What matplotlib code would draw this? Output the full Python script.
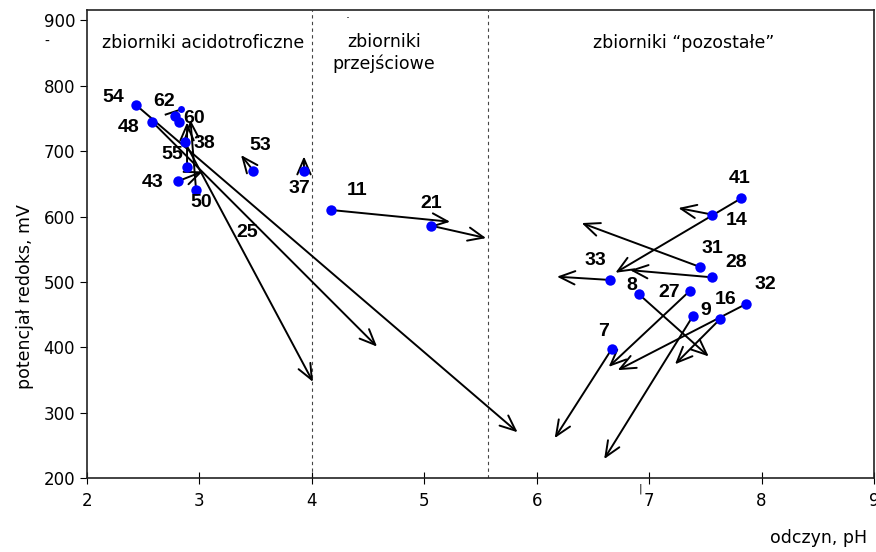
import matplotlib.pyplot as plt
from matplotlib.patches import FancyArrowPatch

# reservoirs: label, pH, redox potential [mV] (first survey)
labels = ["54", "48", "62", "60", "38", "55", "43", "50", "53", "37", "11", "21",
          "41", "14", "31", "28", "33", "8", "27", "9", "16", "32", "7"]
ph = [2.44, 2.58, 2.78, 2.82, 2.87, 2.89, 2.81, 2.97, 3.48, 3.93, 4.17, 5.06,
      7.82, 7.56, 7.45, 7.56, 6.65, 6.91, 7.36, 7.39, 7.63, 7.86, 6.67]
eh = [770, 745, 753, 744, 714, 675, 654, 641, 670, 670, 610, 586,
      628, 603, 523, 507, 503, 481, 486, 448, 443, 466, 398]

# label offsets in points
lab_dx = [-17, -17, -8, 11, 14, -11, -18, 4, 5, -3, 19, 0,
          -1, 18, 9, 17, -10, -5, -15, 9, 4, 14, -6]
lab_dy = [6, -4, 11, 3, -1, 9, -1, -9, 18, -13, 14, 16,
          14, -4, 13, 11, 14, 6, -1, 4, 14, 14, 12]

# a small extra point (partly hidden) next to 62
ph_small = [2.84]
eh_small = [764]

# changes (second survey): start -> end
arr_x0 = [2.44, 2.58, 2.87, 2.97, 2.89, 2.81, 3.48, 3.93, 4.17, 5.06,
          7.82, 7.56, 7.45, 7.56, 6.65, 6.91, 7.36, 7.39, 7.63, 7.86, 6.67]
arr_y0 = [770, 745, 714, 641, 675, 654, 670, 670, 610, 586,
          628, 603, 523, 507, 503, 481, 486, 448, 443, 466, 398]
arr_x1 = [5.83, 4.58, 4.01, 2.92, 2.89, 3.03, 3.37, 3.93, 5.23, 5.55,
          6.70, 7.26, 6.40, 6.83, 6.18, 7.53, 6.64, 6.60, 7.23, 6.72, 6.16]
arr_y1 = [270, 401, 347, 748, 744, 669, 694, 692, 592, 567,
          514, 613, 590, 518, 508, 386, 370, 229, 374, 365, 261]

# short segment near 62
seg_x = [2.84, 2.70]
seg_y = [764, 756]

zone_lines = [4.0, 5.57]

fig = plt.figure(figsize=(8.76, 5.52), dpi=100)
ax = fig.add_axes([0.0993, 0.134, 0.8984, 0.848])

for x0, y0, x1, y1 in zip(arr_x0, arr_y0, arr_x1, arr_y1):
    ar = FancyArrowPatch((x0, y0), (x1, y1),
                         arrowstyle="->,head_length=0.7,head_width=0.3",
                         mutation_scale=16, color="black", lw=1.4,
                         shrinkA=0, shrinkB=0, zorder=2)
    ax.add_patch(ar)
ax.plot(seg_x, seg_y, color="black", lw=1.4, zorder=2)

ax.plot(ph, eh, "o", color="#0000ff", ms=7.5, mec="none", zorder=3)
ax.plot(ph_small, eh_small, "o", color="#0000ff", ms=5, mec="none", zorder=3)

for lab, x, y, dx, dy in zip(labels, ph, eh, lab_dx, lab_dy):
    ax.annotate(lab, (x, y), xytext=(dx, dy), textcoords="offset points",
                ha="center", va="center", fontsize=14, fontweight="bold",
                family="Liberation Sans", zorder=4)
ax.annotate("25", (2.87, 714), xytext=(45, -65), textcoords="offset points",
            ha="center", va="center", fontsize=14, fontweight="bold",
            family="Liberation Sans", zorder=4)

for xv in zone_lines:
    ax.axvline(xv, color="#444444", lw=0.8, ls=(0, (3, 3)), zorder=1)

ax.text(3.03, 866, "zbiorniki acidotroficzne", ha="center", va="center", fontsize=12.5)
ax.text(4.64, 850, "zbiorniki\nprzejściowe", ha="center", va="center",
        fontsize=12.5, linespacing=1.25)
ax.text(7.31, 866, "zbiorniki \u201cpozostałe\u201d", ha="center", va="center", fontsize=12.5)

ax.set_xlim(2, 9)
ax.set_ylim(200, 916)
ax.set_xticks(range(2, 10))
ax.set_yticks(range(200, 901, 100))
ax.tick_params(axis="x", direction="inout", length=8, labelsize=12, pad=6)
ax.tick_params(axis="y", direction="out", length=5, labelsize=12)
for sp in ax.spines.values():
    sp.set_linewidth(1.2)
    sp.set_color("#222222")

ax.set_ylabel("potencjał redoks, mV", fontsize=12.5)
ax.yaxis.set_label_coords(-0.067, 0.387)
fig.text(0.935, 0.025, "odczyn, pH", ha="center", va="center", fontsize=12.5)
fig.text(47 / 876, 1 - 42 / 552, "-", ha="center", va="center", fontsize=10)
fig.text(640 / 876, 1 - 489 / 552, "|", ha="center", va="center", fontsize=8)
fig.text(348 / 876, 1 - 15 / 552, ".", ha="center", va="center", fontsize=9)

fig.savefig("out.png", dpi=100)
